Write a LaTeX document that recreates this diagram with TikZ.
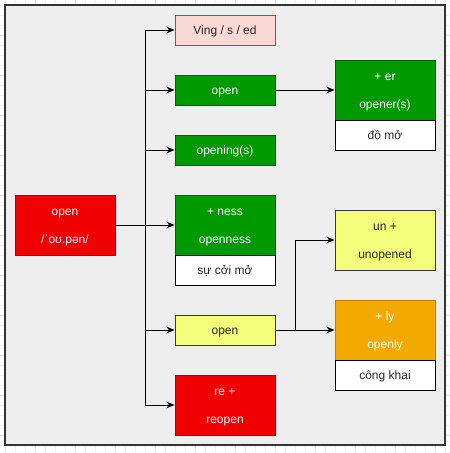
\documentclass[tikz,border=0pt]{standalone}
\usepackage{fontspec}
\setmainfont{Liberation Sans}
\usetikzlibrary{arrows.meta}
\definecolor{pinkfill}{HTML}{FAD9D5}
\definecolor{pinkline}{HTML}{AE4132}
\definecolor{grfill}{HTML}{009900}
\definecolor{grline}{HTML}{006100}
\definecolor{yefill}{HTML}{F3FF7A}
\definecolor{yeline}{HTML}{36393D}
\definecolor{rdfill}{HTML}{F00000}
\definecolor{rdline}{HTML}{B20000}
\definecolor{orfill}{HTML}{F2AA00}
\definecolor{orline}{HTML}{C27A00}
\definecolor{bgfill}{HTML}{EEEEEE}
\definecolor{bgline}{HTML}{333333}
\definecolor{gridminor}{HTML}{F3F3F3}
\definecolor{gridmajor}{HTML}{E6E6E6}
\tikzset{
  box/.style={rectangle, draw, line width=1pt, inner sep=0pt, minimum width=100pt, align=center,
    font=\fontsize{12}{14.4}\selectfont},
  sbox/.style={box, minimum height=30pt, text height=8.4pt, text depth=0pt},
  tbox/.style={box, minimum height=60pt, text height=37.2pt, text depth=0pt},
  pinkbox/.style={fill=pinkfill, draw=pinkline, text=black!85},
  greenbox/.style={fill=grfill, draw=grline, text=white},
  yellowbox/.style={fill=yefill, draw=yeline, text=black!85},
  redbox/.style={fill=rdfill, draw=rdline, text=white},
  orangebox/.style={fill=orfill, draw=orline, text=white},
  whitebox/.style={fill=white, draw=black, text=black!85},
  conn/.style={line width=1pt, -{Stealth[length=8pt,width=6.5pt,inset=2.5pt]}},
  plain/.style={line width=1pt}
}
\begin{document}
\begin{tikzpicture}[x=1pt,y=-1pt]
\useasboundingbox (0,0) rectangle (450,453);
% grid background
\fill[white] (0,0) rectangle (450,453);
\foreach \i in {5,15,...,445} {
  \draw[gridminor, line width=0.8pt] (\i,0) -- (\i,453);
}
\foreach \j in {5,15,...,453} {
  \draw[gridminor, line width=0.8pt] (0,\j) -- (450,\j);
}
\foreach \i in {35,75,...,445} {
  \draw[gridmajor, line width=0.8pt] (\i,0) -- (\i,453);
  \draw[gridmajor, line width=0.8pt] (0,\i) -- (450,\i);
}
% container
\node[rectangle, fill=bgfill, draw=bgline, line width=1.2pt, minimum width=440pt, minimum height=440pt, inner sep=0pt] (frame) at (225,225) {};

% nodes
\node[sbox, pinkbox] (ving) at (225,30) {Ving / s / ed};
\node[sbox, greenbox] (open2) at (225,90) {open};
\node[sbox, greenbox] (opening) at (225,150) {opening(s)};
\node[tbox, greenbox] (ness) at (225,225) {+ ness\\[13.6pt]openness};
\node[sbox, whitebox] (nessm) at (225,270) {sự cởi mở};
\node[sbox, yellowbox] (openadj) at (225,330) {open};
\node[tbox, redbox] (re) at (225,405) {re +\\[13.6pt]reopen};
\node[tbox, redbox] (root) at (65,225) {open\\[13.6pt]/ˈoʊ.pən/};
\node[tbox, greenbox] (er) at (385,90) {+ er\\[13.6pt]opener(s)};
\node[sbox, whitebox] (erm) at (385,135) {đồ mở};
\node[tbox, yellowbox] (un) at (385,240) {un +\\[13.6pt]unopened};
\node[tbox, orangebox] (ly) at (385,330) {+ ly\\[13.6pt]openly};
\node[sbox, whitebox] (lym) at (385,375) {công khai};

% connectors
\coordinate (trunk) at (145,225);
\draw[conn] (root.east) -- (trunk) |- (ving.west);
\draw[conn] (root.east) -- (trunk) |- (open2.west);
\draw[conn] (root.east) -- (trunk) |- (opening.west);
\draw[conn] (root.east) -- (ness.west);
\draw[conn] (root.east) -- (trunk) |- (openadj.west);
\draw[conn] (root.east) -- (trunk) |- (re.west);
\draw[conn] (open2.east) -- (er.west);
\coordinate (split) at (295,330);
\draw[conn] (openadj.east) -- (split) |- (un.west);
\draw[conn] (openadj.east) -- (ly.west);
\end{tikzpicture}
\end{document}
